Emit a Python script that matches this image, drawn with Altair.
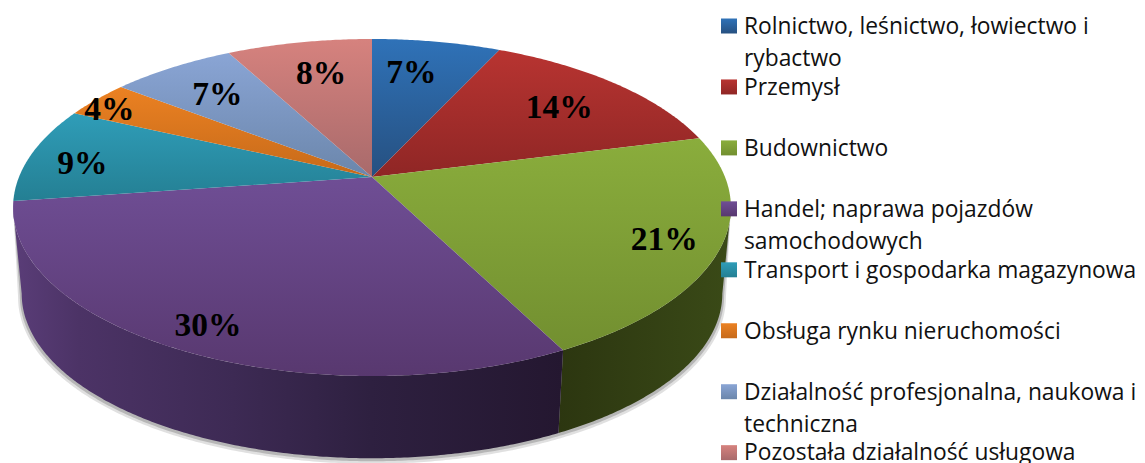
import math
import altair as alt
import pandas as pd

names = [
    ["Rolnictwo, leśnictwo, łowiectwo i", "rybactwo"],
    ["Przemysł"],
    ["Budownictwo"],
    ["Handel; naprawa pojazdów", "samochodowych"],
    ["Transport i gospodarka magazynowa"],
    ["Obsługa rynku nieruchomości"],
    ["Działalność profesjonalna, naukowa i", "techniczna"],
    ["Pozostała działalność usługowa"],
]
shares = [6.9, 14.1, 21.5, 30.2, 9.2, 3.6, 6.7, 7.8]
labels = ["7%", "14%", "21%", "30%", "9%", "4%", "7%", "8%"]
label_turn = [2.7, 13.95, 31.7, 57.6, 76.8, 83.3, 88.85, 96.5]
label_radius = [0.75, 0.75, 0.85, 0.87, 0.84, 0.93, 0.75, 0.75]
top_light = ["#2f72b8", "#b83431", "#8aad3c", "#6f4e95", "#2f9db8", "#eb8122", "#8aa5d5", "#d6827e"]
top_dark = ["#265080", "#8f2625", "#728f30", "#58386f", "#247f93", "#c66a1a", "#6b86ab", "#a86a6b"]

W, H = 1129, 455
CX, CY, A, B, K = 372, 177, 353, 163, 0.181
S, YB = 0.976, 264
TL, TR = 259.6, 100.4


def project(turn_deg, r=1.0):
    t = math.radians(turn_deg)
    u, v = r * math.sin(t), -r * math.cos(t)
    d = 1 - K * v
    return CX + A * u / d, CY + B * v / d


def lower(x, y, s=S, yb=YB):
    return CX + (x - CX) * s, yb + (y - CY) * s


def arc(a0, a1):
    n = max(2, int(abs(a1 - a0)) * 2 + 1)
    return [project(a0 + (a1 - a0) * i / (n - 1)) for i in range(n)]


def frame(pts):
    return pd.DataFrame({"x": [p[0] for p in pts], "y": [p[1] for p in pts], "i": range(len(pts))})


def gradient(stops, horizontal=False):
    return alt.Gradient(
        gradient="linear",
        stops=[alt.GradientStop(color=c, offset=o) for o, c in stops],
        x1=0, y1=0, x2=1 if horizontal else 0, y2=0 if horizontal else 1,
    )


xs = alt.Scale(domain=[8, 8 + W], range=[0, W])
ys = alt.Scale(domain=[8, 8 + H], range=[0, H])
X = alt.X("x:Q", scale=xs, axis=None)
Y = alt.Y("y:Q", scale=ys, axis=None)


def polygon(pts, fill, opacity=1.0):
    return alt.Chart(frame(pts)).mark_line(
        fill=fill, stroke=None, strokeWidth=0, interpolate="linear-closed", opacity=opacity, clip=False
    ).encode(x=X, y=Y, order=alt.Order("i:Q"))


edges = [0.0]
for s in shares:
    edges.append(edges[-1] + s)
edges = [e * 3.6 for e in edges]
edges[-1] = 360.0

layers = []

# soft shadow below the side wall
front = arc(TR, TL)
for grow, drop, op in [(0.986, 267.5, 0.18), (0.981, 266, 0.3)]:
    layers.append(polygon(front + [lower(x, y, grow, drop) for x, y in reversed(front)], "#555555", op))

# side walls
green_side = gradient([(0, "#2c3610"), (1, "#3a4a17")], True)
purple_side = gradient([(0, "#5a3d78"), (0.12, "#4c3366"), (0.4, "#3d2a54"), (0.65, "#2e2040"), (1, "#241730")], True)
for a0, a1, f in [(TR, edges[3], green_side), (edges[3], TL, purple_side)]:
    rim = arc(a0, a1)
    layers.append(polygon(rim + [lower(x, y) for x, y in reversed(rim)], f))

# top slices
for k in range(len(shares)):
    pts = [(CX, CY)] + arc(edges[k], edges[k + 1])
    layers.append(polygon(pts, gradient([(0, top_light[k]), (1, top_dark[k])])))

# value labels
pos = [project(t * 3.6, r) for t, r in zip(label_turn, label_radius)]
label_df = pd.DataFrame({"x": [p[0] for p in pos], "y": [p[1] + 2.5 for p in pos], "t": labels})
layers.append(
    alt.Chart(label_df).mark_text(
        font="Liberation Serif", fontWeight="bold", fontSize=33.5, color="#000000",
        align="center", baseline="middle",
    ).encode(x=X, y=Y, text="t:N")
)

# legend
ROW0, PITCH = 26, 60.95
rows = []
for k, lines in enumerate(names):
    yc = ROW0 + k * PITCH
    sq = pd.DataFrame({"x": [721], "x2": [737], "y": [yc - 7.5], "y2": [yc + 7.5]})
    layers.append(
        alt.Chart(sq).mark_rect(fill=gradient([(0, top_light[k]), (1, top_dark[k])])).encode(
            x=X, x2="x2:Q", y=Y, y2="y2:Q"
        )
    )
    for j, line in enumerate(lines):
        rows.append({"x": 744, "y": yc + 7.8 + j * 32.6, "t": line})
layers.append(
    alt.Chart(pd.DataFrame(rows)).mark_text(
        font="Open Sans", fontSize=22.8, color="#111111", align="left", baseline="alphabetic"
    ).encode(x=X, y=Y, text="t:N")
)

chart = alt.layer(*layers).properties(width=W, height=H, padding=0).configure_view(stroke=None)
chart.save("out.html", embed_options={"renderer": "svg", "actions": False})
